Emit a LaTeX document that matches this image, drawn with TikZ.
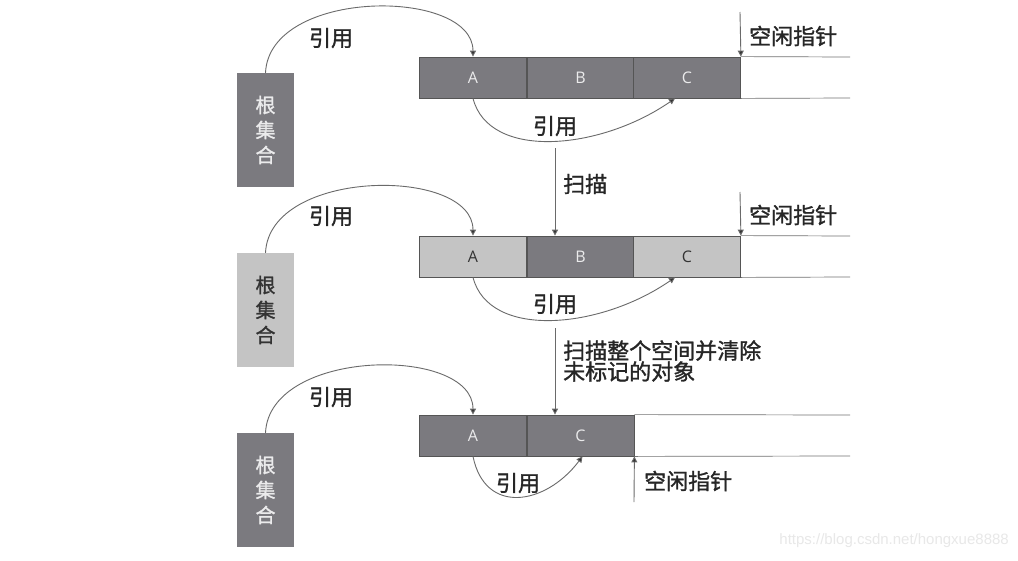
\documentclass[tikz,border=0pt]{standalone}
\usepackage{fontspec}
\setmainfont{Noto Sans CJK SC}
\newfontfamily\cjkb[FakeBold=1.3]{Noto Sans CJK SC}
\newfontfamily\latinfont{Open Sans}
\newfontfamily\wmfont{Liberation Sans}
\usetikzlibrary{arrows.meta}
\definecolor{dk}{HTML}{7B7A7F}
\definecolor{lt}{HTML}{C4C4C4}
\definecolor{edgec}{HTML}{555555}
\definecolor{linec}{HTML}{6A6A6A}
\begin{document}
\begin{tikzpicture}[x=1pt,y=-1pt,
  cell/.style={draw=edgec, line width=0.8pt, minimum width=107, minimum height=41, inner sep=0pt, font=\latinfont\fontsize{16}{16}\selectfont},
  darkcell/.style={cell, fill=dk, text=white!85!dk},
  lightcell/.style={cell, fill=lt, text=black!80},
  rootbox/.style={minimum width=57, minimum height=114, inner sep=0pt, align=center, font=\cjkb\fontsize{20}{25}\selectfont},
  lbl/.style={font=\cjkb\fontsize{22}{22}\selectfont, text=black!85, inner sep=0pt},
  conn/.style={draw=linec, line width=0.9pt, -{Triangle[width=6pt,length=6pt,fill=black!80]}},
  emptyline/.style={draw=black!55, line width=0.7pt}
]
\useasboundingbox[fill=white] (0,0) rectangle (1018,560);

% ---------- row 1 ----------
\node[rootbox, fill=dk, text=white!85!dk] (r1) at (265.5,130) {根\\集\\合};
\node[darkcell] (a1) at (473,77.5) {A};
\node[darkcell] (b1) at (580.5,77.5) {B};
\node[darkcell] (c1) at (687,77.5) {C};
\coordinate (e1t) at (850,57);
\coordinate (e1b) at (850,98);
\draw[emptyline] (c1.north east) -- (e1t);
\draw[emptyline] (c1.south east) -- (e1b);
\draw[conn] (r1.north) .. controls +(4,-85) and +(0,-69) .. (a1.north);
\node[lbl] (l1o) at (331,38) {引用};
\draw[conn] (a1.south) .. controls +(16,62) and +(-75,52) .. ([xshift=-12pt]c1.south);
\node[lbl] (l1i) at (555,126) {引用};
\coordinate (f1) at (740,12);
\draw[conn] (f1) -- (c1.north east);
\node[lbl, anchor=west] (p1) at (749,36) {空闲指针};
\coordinate (s1) at (555,148);
\node[lbl, anchor=west] (t1) at (563,184) {扫描};

% ---------- row 2 ----------
\node[rootbox, fill=lt, text=black!80] (r2) at (265.5,310) {根\\集\\合};
\node[lightcell] (a2) at (473,256.5) {A};
\node[darkcell] (b2) at (580.5,256.5) {B};
\node[lightcell] (c2) at (687,256.5) {C};
\coordinate (e2t) at (850,236);
\coordinate (e2b) at (850,277);
\draw[emptyline] (c2.north east) -- (e2t);
\draw[emptyline] (c2.south east) -- (e2b);
\draw[conn] (s1) -- (s1 |- b2.north);
\draw[conn] (r2.north) .. controls +(4,-85) and +(0,-69) .. (a2.north);
\node[lbl] (l2o) at (331,216) {引用};
\draw[conn] (a2.south) .. controls +(16,62) and +(-75,52) .. ([xshift=-12pt]c2.south);
\node[lbl] (l2i) at (555,304) {引用};
\coordinate (f2) at (740,192);
\draw[conn] (f2) -- (c2.north east);
\node[lbl, anchor=west] (p2) at (749,215) {空闲指针};
\coordinate (s2) at (555,328);
\node[lbl, anchor=west, align=left, font=\cjkb\fontsize{22}{21}\selectfont] (t2) at (563,361) {扫描整个空间并清除\\未标记的对象};

% ---------- row 3 ----------
\node[rootbox, fill=dk, text=white!85!dk] (r3) at (265.5,490) {根\\集\\合};
\node[darkcell] (a3) at (473,435.5) {A};
\node[darkcell] (c3) at (580.5,435.5) {C};
\coordinate (e3t) at (850,415);
\coordinate (e3b) at (850,456);
\draw[emptyline] (c3.north east) -- (e3t);
\draw[emptyline] (c3.south east) -- (e3b);
\draw[conn] (s2) -- (s2 |- c3.north);
\draw[conn] (r3.north) .. controls +(4,-85) and +(0,-69) .. (a3.north);
\node[lbl] (l3o) at (331,397) {引用};
\draw[conn] (a3.south) .. controls +(12,59) and +(-37,49) .. ([xshift=2pt]c3.south);
\node[lbl] (l3i) at (518,483) {引用};
\coordinate (f3) at (634,502);
\draw[conn] (f3) -- (c3.south east);
\node[lbl, anchor=west] (p3) at (644,481) {空闲指针};

% watermark
\node[font=\wmfont\fontsize{15}{15}\selectfont, text=black!9, anchor=east, inner sep=0pt] (wm) at (1009,541) {https://blog.csdn.net/hongxue8888};
\end{tikzpicture}
\end{document}
